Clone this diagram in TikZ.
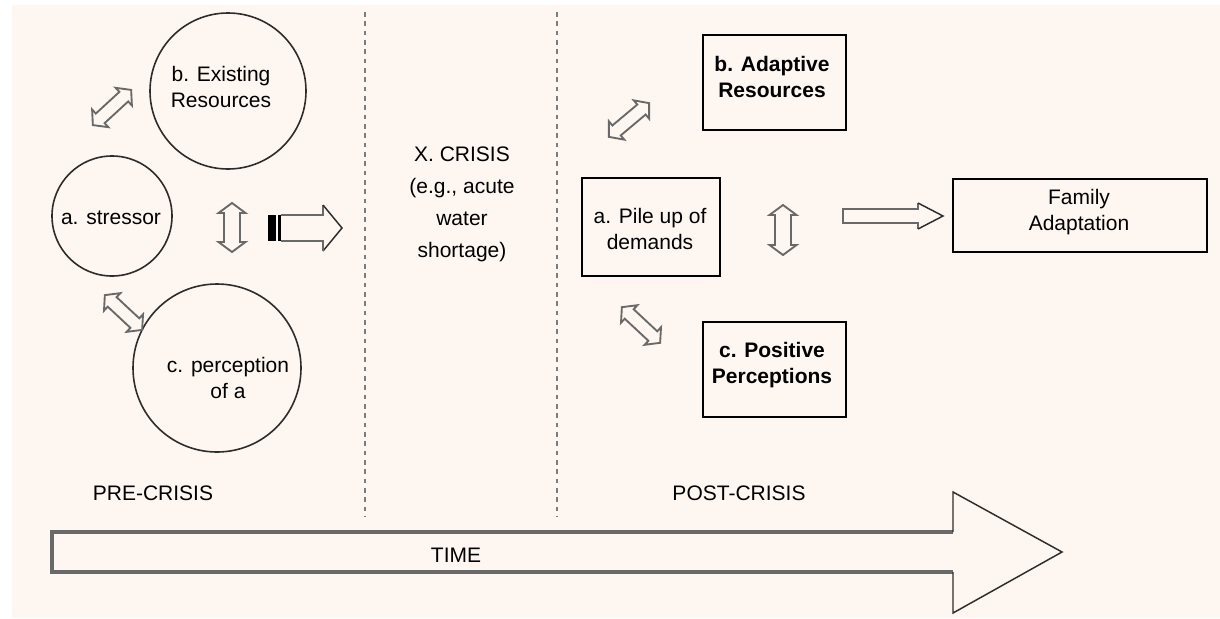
\documentclass[tikz,border=0pt]{standalone}
\usepackage{fontspec}
\setmainfont{Liberation Sans}
\definecolor{bg}{RGB}{254,246,240}
\definecolor{arrgray}{RGB}{105,105,105}
\definecolor{circgray}{RGB}{45,45,45}
\definecolor{dashgray}{RGB}{125,125,125}
\newcommand\dblarr[7]{% name, x, y, angle, length, head half width, shaft half width
  \coordinate (#1) at (#2,#3);
  \draw[blk, shift={(#2,#3)}, rotate=#4]
    ({-#5/2},0) -- ({-#5/2+10},-#6) -- ({-#5/2+10},-#7) -- ({#5/2-10},-#7)
    -- ({#5/2-10},-#6) -- ({#5/2},0) -- ({#5/2-10},#6) -- ({#5/2-10},#7)
    -- ({-#5/2+10},#7) -- ({-#5/2+10},#6) -- cycle;}
\begin{document}
\begin{tikzpicture}[x=0.75pt,y=-0.75pt,
  txt/.style={font=\fontsize{15.75}{19.5}\selectfont, align=center, inner sep=0pt},
  btxt/.style={txt, font=\fontsize{15.75}{19.5}\selectfont\bfseries},
  circ/.style={circle, draw=circgray, line width=1.2pt, inner sep=0pt},
  box/.style={draw=black, line width=2.2pt, inner sep=0pt},
  blk/.style={draw=arrgray, line width=1.4pt, line join=miter},
  headline/.style={draw=circgray, line width=1.1pt, line join=miter},
  dashline/.style={draw=dashgray, line width=1pt, dash pattern=on 3.5pt off 3.5pt}]
\useasboundingbox (0,0) rectangle (1220,618);
\fill[white] (0,0) rectangle (1220,618);
\fill[bg] (12,5) rectangle (1220,618);

% dashed separators
\coordinate (d1t) at (365,12); \coordinate (d1b) at (365,517);
\coordinate (d2t) at (557,12); \coordinate (d2b) at (557,517);
\draw[dashline] (d1t) -- (d1b);
\draw[dashline] (d2t) -- (d2b);

% pre-crisis circles
\node[circ, minimum size=117pt] (b) at (228,91) {};
\node[txt] (bt) at (221,87) {b. Existing\\Resources};
\node[circ, minimum size=90pt] (a) at (112,216) {};
\node[txt] (at) at (111,218) {a. stressor};
\node[circ, minimum size=126pt] (c) at (217,368) {};
\node[txt] (ct) at (228,378) {c. perception\\of a};

% double arrows (pre-crisis)
\dblarr{ab}{112}{107.5}{42.6}{52}{12}{6.5}
\dblarr{ac}{123.5}{312.5}{-43}{51}{12}{6.5}
\dblarr{bc}{232}{227.5}{90}{49}{13.5}{8}

% striped arrow to crisis
\coordinate (s0) at (268,228);
\coordinate (s1) at (342,228);
\fill[black] (268,215) rectangle (276,241);
\fill[black] (278,215) rectangle (280.5,241);
\draw[blk] (280.5,215) -- (323,215) -- (323,205);
\draw[headline] (323,205) -- (s1) -- (323,251);
\draw[blk] (323,251) -- (323,241) -- (280.5,241);

% crisis text
\node[txt, font=\fontsize{15.75}{24}\selectfont] (x) at (462,204) {X. CRISIS\\(e.g., acute\\water\\shortage)};

% post-crisis boxes
\node[box, minimum width=103.5pt, minimum height=73.5pt] (pa) at (651,227) {};
\node[txt] (pat) at (650,229) {a. Pile up of\\demands};
\node[box, minimum width=107.25pt, minimum height=71.25pt] (pb) at (774.5,82.5) {};
\node[btxt] (pbt) at (772,77) {b. Adaptive\\Resources};
\node[box, minimum width=107.25pt, minimum height=71.25pt] (pc) at (774.5,369.5) {};
\node[btxt] (pct) at (772,365) {c. Positive\\Perceptions};
\node[box, minimum width=190.5pt, minimum height=54.75pt] (fa) at (1080,215.5) {};
\node[txt] (fat) at (1079,212) {Family\\Adaptation};

% double arrows (post-crisis)
\dblarr{pab}{629}{120}{40}{52.5}{12}{6.5}
\dblarr{pac}{641}{325}{-43}{52.3}{12}{6.5}
\dblarr{pbc}{783}{230}{90}{50}{13.5}{8}

% arrow to family adaptation
\coordinate (f0) at (843,216);
\coordinate (f1) at (943,216);
\draw[blk] (918,203) -- (918,209) -- (843,209) -- (843,223) -- (918,223) -- (918,229);
\draw[headline] (918,203) -- (f1) -- (918,229);

% labels
\node[txt, anchor=base] (pre) at (153,500) {PRE-CRISIS};
\node[txt, anchor=base] (post) at (739,500) {POST-CRISIS};

% time arrow
\coordinate (t0) at (52,552);
\coordinate (t1) at (1062,552);
\draw[draw=arrgray, line width=2.4pt] (953,532) -- (52,532) -- (52,572) -- (953,572);
\draw[headline] (953,532) -- (953,492) -- (t1) -- (953,613) -- (953,572);
\node[txt, anchor=base] (time) at (456,562) {TIME};
\end{tikzpicture}
\end{document}
